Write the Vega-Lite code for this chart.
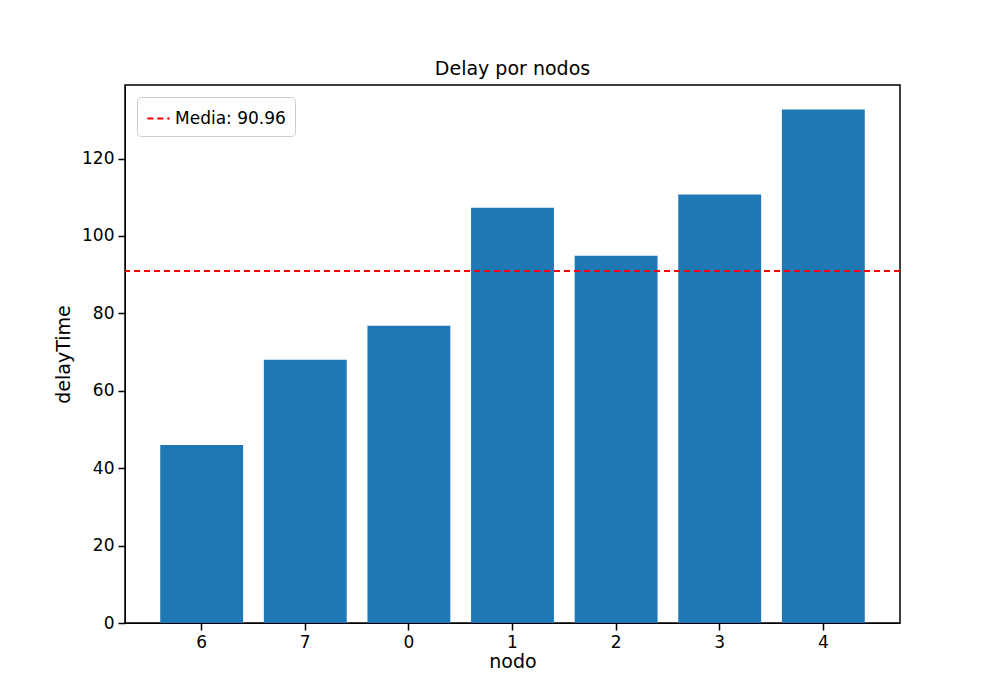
{
  "$schema": "https://vega.github.io/schema/vega-lite/v6.json",
  "width": 775,
  "height": 538,
  "autosize": "none",
  "padding": {"left": 125, "top": 85, "right": 100, "bottom": 77},
  "background": "white",
  "title": {"text": "Delay por nodos", "fontSize": 19, "fontWeight": "normal", "font": "DejaVu Sans", "color": "black", "offset": 6},
  "config": {
    "font": "DejaVu Sans",
    "view": {"stroke": "black", "strokeWidth": 1.5},
    "axis": {
      "labelFontSize": 17, "titleFontSize": 19, "titleFontWeight": "normal",
      "labelColor": "black", "titleColor": "black",
      "domainColor": "black", "tickColor": "black", "tickSize": 7, "tickWidth": 1.5,
      "grid": false, "labelPadding": 4
    }
  },
  "layer": [
    {
      "data": {"values": [
        {"nodo": "6", "delayTime": 46.0},
        {"nodo": "7", "delayTime": 68.0},
        {"nodo": "0", "delayTime": 76.8},
        {"nodo": "1", "delayTime": 107.3},
        {"nodo": "2", "delayTime": 94.9},
        {"nodo": "3", "delayTime": 110.7},
        {"nodo": "4", "delayTime": 132.7}
      ]},
      "mark": {"type": "bar", "color": "#1f77b4"},
      "encoding": {
        "x": {"field": "nodo", "type": "nominal", "sort": null, "title": "nodo",
          "scale": {"paddingInner": 0.2, "paddingOuter": 0.34},
          "axis": {"labelAngle": 0, "titlePadding": 2}},
        "y": {"field": "delayTime", "type": "quantitative", "title": "delayTime",
          "scale": {"domain": [0, 139], "nice": false},
          "axis": {"values": [0, 20, 40, 60, 80, 100, 120], "titlePadding": 8}}
      }
    },
    {
      "data": {"values": [{"media": 90.96, "serie": "Media: 90.96"}]},
      "mark": {"type": "rule", "strokeDash": [6, 4], "strokeWidth": 2},
      "encoding": {
        "y": {"field": "media", "type": "quantitative"},
        "color": {"field": "serie", "type": "nominal",
          "scale": {"range": ["red"]},
          "legend": {"title": null, "orient": "top-left", "offset": 12,
            "symbolType": "stroke", "symbolStrokeWidth": 2, "symbolDash": [6, 4], "symbolSize": 500,
            "labelFontSize": 17, "labelColor": "black",
            "fillColor": "white", "strokeColor": "#cccccc", "padding": 9, "cornerRadius": 4}}
      }
    }
  ]
}
